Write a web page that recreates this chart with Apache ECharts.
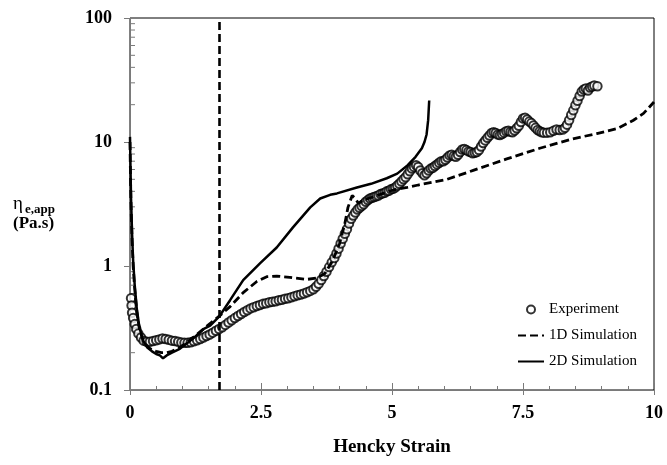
<!DOCTYPE html>
<html>
<head>
<meta charset="utf-8">
<script src="https://cdn.jsdelivr.net/npm/echarts@6/dist/echarts.min.js"></script>
<style>
html,body{margin:0;padding:0;background:#fff;}
#chart{width:667px;height:465px;}
</style>
</head>
<body>
<div id="chart"></div>
<script>
// ---- data ----
const xTickLabels = ['0', '2.5', '5', '7.5', '10'];
const yTickLabels = ['0.1', '1', '10', '100'];
const yMinorTicks = [0.2,0.3,0.4,0.5,0.6,0.7,0.8,0.9,2,3,4,5,6,7,8,9,20,30,40,50,60,70,80,90];
const markerStrain = 1.7;

const expX = [0.02,0.03,0.04,0.06,0.09,0.12,0.16,0.21,0.26,0.32,0.38,0.44,0.50,0.56,0.62,0.68,0.74,0.80,0.86,0.92,0.98,1.04,1.10,1.16,1.22,1.28,1.34,1.40,1.46,1.52,1.58,1.64,1.70,1.76,1.82,1.88,1.94,2.00,2.06,2.12,2.18,2.24,2.30,2.36,2.42,2.48,2.54,2.60,2.66,2.72,2.78,2.84,2.90,2.96,3.02,3.08,3.14,3.20,3.26,3.32,3.38,3.44,3.50,3.55,3.60,3.65,3.70,3.75,3.80,3.85,3.90,3.94,3.98,4.02,4.06,4.10,4.14,4.18,4.22,4.26,4.30,4.34,4.38,4.42,4.46,4.50,4.54,4.58,4.62,4.66,4.70,4.74,4.78,4.82,4.86,4.90,4.94,4.98,5.02,5.06,5.10,5.14,5.18,5.22,5.26,5.30,5.34,5.38,5.42,5.46,5.50,5.54,5.58,5.62,5.66,5.70,5.74,5.78,5.82,5.86,5.90,5.94,5.98,6.02,6.06,6.10,6.14,6.18,6.22,6.26,6.30,6.34,6.38,6.42,6.46,6.50,6.54,6.58,6.62,6.66,6.70,6.74,6.78,6.82,6.86,6.90,6.94,6.98,7.02,7.06,7.10,7.14,7.18,7.22,7.26,7.30,7.34,7.38,7.42,7.46,7.50,7.54,7.58,7.62,7.66,7.70,7.74,7.78,7.82,7.86,7.90,7.96,8.02,8.08,8.14,8.20,8.26,8.30,8.34,8.38,8.42,8.46,8.50,8.54,8.58,8.62,8.66,8.70,8.74,8.78,8.82,8.86,8.92];
const expY = [0.55,0.48,0.42,0.38,0.34,0.31,0.285,0.265,0.25,0.245,0.245,0.248,0.252,0.256,0.26,0.258,0.254,0.25,0.248,0.245,0.242,0.24,0.24,0.243,0.247,0.252,0.258,0.265,0.272,0.28,0.29,0.30,0.31,0.32,0.335,0.35,0.365,0.38,0.395,0.41,0.425,0.44,0.455,0.465,0.475,0.485,0.495,0.50,0.51,0.515,0.52,0.53,0.535,0.545,0.55,0.56,0.57,0.58,0.59,0.60,0.615,0.63,0.65,0.68,0.72,0.77,0.83,0.9,0.98,1.07,1.16,1.26,1.38,1.52,1.66,1.82,1.98,2.2,2.4,2.55,2.7,2.85,2.95,3.05,3.15,3.3,3.4,3.5,3.55,3.6,3.65,3.7,3.8,3.85,3.9,4.0,4.05,4.15,4.2,4.3,4.45,4.6,4.8,5.0,5.2,5.5,5.8,6.1,6.3,6.5,6.3,5.9,5.6,5.4,5.6,5.9,6.1,6.2,6.4,6.6,6.8,7.0,7.0,7.2,7.5,7.8,7.9,7.7,7.6,7.9,8.3,8.7,8.8,8.6,8.4,8.3,8.1,8.2,8.3,8.6,9.2,9.8,10.3,10.8,11.3,11.8,12.0,11.8,11.5,11.4,11.6,11.9,12.2,12.3,12.1,12.0,12.4,12.9,13.5,14.5,15.5,15.7,15.2,14.6,14.2,13.6,13.0,12.5,12.2,12.0,11.9,11.9,12.0,12.3,12.6,12.5,12.6,13.0,13.8,15.0,16.5,18.0,19.8,21.5,23.5,25.5,26.5,27.0,26.0,27.5,28.0,28.5,28.2];

const sim1DX = [0,0.01,0.02,0.04,0.06,0.09,0.13,0.18,0.25,0.33,0.42,0.5,0.6,0.7,0.8,0.95,1.1,1.25,1.4,1.55,1.72,1.91,2.16,2.42,2.61,2.8,3.05,3.38,3.57,3.72,3.87,4.0,4.1,4.16,4.24,4.3,4.36,4.45,4.64,4.83,5.02,5.29,5.5,6.05,6.55,7.19,7.82,8.45,8.91,9.29,9.6,9.8,10];
const sim1DY = [10,5,3,1.6,1.0,0.65,0.43,0.31,0.25,0.225,0.21,0.205,0.2,0.2,0.205,0.22,0.245,0.275,0.31,0.35,0.40,0.47,0.61,0.75,0.82,0.83,0.81,0.78,0.8,0.87,1.11,1.52,2.2,2.97,3.7,3.5,3.2,3.4,3.6,3.85,4.1,4.3,4.5,5.0,5.9,7.3,8.9,10.6,11.7,12.8,14.9,17,21];

const sim2DX = [0,0.01,0.02,0.04,0.06,0.09,0.13,0.18,0.25,0.33,0.42,0.5,0.57,0.63,0.7,0.8,0.95,1.1,1.25,1.4,1.53,1.7,1.91,2.16,2.48,2.8,3.11,3.44,3.63,3.82,3.95,4.33,4.6,4.9,5.1,5.3,5.45,5.57,5.62,5.66,5.69,5.71];
const sim2DY = [11,6,3.5,1.8,1.1,0.7,0.45,0.32,0.25,0.22,0.205,0.195,0.19,0.18,0.19,0.2,0.215,0.24,0.27,0.31,0.33,0.39,0.53,0.77,1.05,1.41,2.05,2.97,3.5,3.75,3.85,4.3,4.6,5.1,5.56,6.5,7.6,8.9,10,11.5,15,21.6];

const seriesNames = ['Experiment', '1D Simulation', '2D Simulation'];

function pairs(xs, ys) { return xs.map((x, i) => [x, ys[i]]); }

const serif = '"Liberation Serif", "Times New Roman", serif';
const axisGray = '#7a7a7a';

const chart = echarts.init(document.getElementById('chart'), null, {renderer: 'canvas'});
chart.setOption({
  animation: false,
  backgroundColor: '#fff',
  grid: {left: 130, right: 13, top: 18, bottom: 75, show: true, borderColor: '#000', borderWidth: 1},
  legend: {
    data: [
      {name: seriesNames[0], itemStyle: {borderWidth: 0.8}},
      {name: seriesNames[1], itemStyle: {opacity: 0}},
      {name: seriesNames[2], itemStyle: {opacity: 0}}
    ],
    orient: 'vertical', left: 517, top: 302, padding: 0,
    itemWidth: 26, itemHeight: 8, itemGap: 11, selectedMode: false,
    textStyle: {fontFamily: serif, fontSize: 15, color: '#000'}
  },
  xAxis: [{
    type: 'value', min: 0, max: 10, interval: 2.5,
    axisLine: {show: true, onZero: false, lineStyle: {color: axisGray, width: 1}},
    axisTick: {show: true, inside: true, length: 7, lineStyle: {color: axisGray}},
    minorTick: {show: true, splitNumber: 5, length: 4, lineStyle: {color: axisGray}},
    splitLine: {show: false},
    axisLabel: {margin: 14, fontFamily: serif, fontSize: 18, fontWeight: 'bold', color: '#000',
      formatter: v => xTickLabels[Math.round(v / 2.5)]},
    name: 'Hencky Strain', nameLocation: 'middle', nameGap: 48,
    nameTextStyle: {fontFamily: serif, fontSize: 19, fontWeight: 'bold', color: '#000'}
  }, {
    type: 'value', min: 0, max: 10, interval: 2.5, position: 'bottom',
    axisLine: {show: false}, axisLabel: {show: false}, splitLine: {show: false},
    axisTick: {show: true, inside: false, length: 5, lineStyle: {color: axisGray}}
  }],
  yAxis: [{
    type: 'log', logBase: 10, min: 0.1, max: 100,
    axisLine: {show: true, onZero: false, lineStyle: {color: axisGray, width: 1}},
    axisTick: {show: true, inside: false, length: 6, lineStyle: {color: axisGray}},
    splitLine: {show: false},
    axisLabel: {margin: 18, fontFamily: serif, fontSize: 18, fontWeight: 'bold', color: '#000',
      formatter: v => yTickLabels[Math.round(Math.log10(v)) + 1]}
  }],
  graphic: [
    {type: 'text', left: 13, top: 195, style: {text: 'η', fontFamily: serif, fontSize: 19, fill: '#000'}},
    {type: 'text', left: 25, top: 203, style: {text: 'e,app', fontFamily: serif, fontSize: 13, fontWeight: 'bold', fill: '#000'}},
    {type: 'text', left: 13, top: 215, style: {text: '(Pa.s)', fontFamily: serif, fontSize: 17, fontWeight: 'bold', fill: '#000'}}
  ],
  series: [
    {
      name: 'Experiment', type: 'scatter', data: pairs(expX, expY),
      symbol: 'emptyCircle', symbolSize: 8.5,
      itemStyle: {color: '#000', borderColor: '#000', borderWidth: 0.8}
    },
    {
      name: '1D Simulation', type: 'line', data: pairs(sim1DX, sim1DY),
      symbol: 'none', smooth: false,
      lineStyle: {color: '#000', width: 2.8, type: [8, 4]},
      itemStyle: {color: '#000'},
      markLine: {
        silent: true, symbol: 'none', label: {show: false},
        lineStyle: {color: '#000', width: 2.6, type: [8, 4]},
        data: [{xAxis: markerStrain}]
      }
    },
    {
      name: '2D Simulation', type: 'line', data: pairs(sim2DX, sim2DY),
      symbol: 'none', smooth: false,
      lineStyle: {color: '#000', width: 2.5, type: 'solid'},
      itemStyle: {color: '#000'}
    },
    {
      name: 'minorY', type: 'custom', silent: true, clip: false,
      data: yMinorTicks.map(v => [0, v]),
      renderItem: function (params, api) {
        const p = api.coord([0, api.value(1)]);
        return {type: 'line', shape: {x1: p[0], y1: p[1], x2: p[0] + 5, y2: p[1]},
          style: {stroke: axisGray, lineWidth: 1}};
      }
    }
  ]
});
</script>
</body>
</html>
